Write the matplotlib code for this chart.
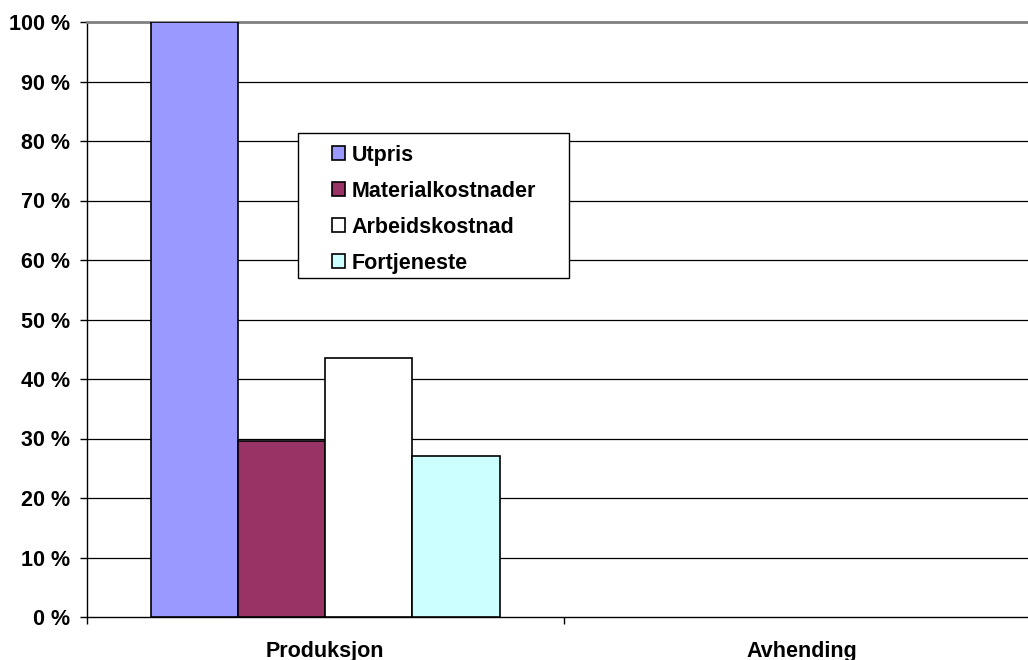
import matplotlib
matplotlib.use("Agg")
import matplotlib.pyplot as plt
from matplotlib.patches import Rectangle
import numpy as np

plt.rcParams['font.family'] = ['Liberation Sans', 'DejaVu Sans']
plt.rcParams['font.weight'] = 'bold'

categories = ["Produksjon", "Avhending"]
series_names = ["Utpris", "Materialkostnader", "Arbeidskostnad", "Fortjeneste"]
# Avhending has no values
utpris = [100.0, np.nan]
materialkostnader = [29.5, np.nan]
arbeidskostnad = [43.5, np.nan]
fortjeneste = [27.0, np.nan]
series_colors = ["#9999FF", "#993366", "#FFFFFF", "#CCFFFF"]
y_ticks = [0, 10, 20, 30, 40, 50, 60, 70, 80, 90, 100]

W, H = 1028, 660
fig = plt.figure(figsize=(W / 100, H / 100), dpi=100)
ax = fig.add_axes([87 / W, 1 - 617 / H, (1040 - 87) / W, (617 - 22) / H])

x = np.arange(len(categories))
width = 0.183
series = [utpris, materialkostnader, arbeidskostnad, fortjeneste]
handles = []
for i, (vals, name, col) in enumerate(zip(series, series_names, series_colors)):
    offs = (i - 1.5) * width
    b = ax.bar(x + offs, vals, width, color=col, edgecolor="black",
               linewidth=1.2, label=name, zorder=3)
    handles.append(b)

ax.set_xlim(-0.5, 1.5)
ax.set_ylim(0, 100)

# horizontal gridlines
for v in y_ticks[1:-1]:
    ax.axhline(v, color="black", linewidth=0.9, zorder=1)

ax.spines['right'].set_visible(False)
ax.spines['top'].set_color("#808080")
ax.spines['top'].set_linewidth(2.0)
ax.spines['left'].set_color("black")
ax.spines['left'].set_linewidth(1.0)
ax.spines['bottom'].set_color("black")
ax.spines['bottom'].set_linewidth(1.0)

ax.set_yticks(y_ticks)
ax.set_yticklabels([f"{v} %" for v in y_ticks], fontsize=15.5, fontweight="bold")
ax.tick_params(axis='y', direction='out', length=5, width=1, pad=7)

ax.set_xticks([-0.5, 0.5, 1.5])
ax.set_xticklabels([])
ax.set_xticks(x, minor=True)
ax.set_xticklabels(categories, minor=True, fontsize=15.5, fontweight="bold")
ax.tick_params(axis='x', which='major', direction='out', length=5, width=1)
ax.tick_params(axis='x', which='minor', length=0, pad=17)

# legend frame and entries
fig.patches.append(Rectangle((298 / W, 1 - 278 / H), (569 - 298) / W, (278 - 133) / H,
                             transform=fig.transFigure, facecolor="white",
                             edgecolor="black", linewidth=1.0, zorder=5))
leg = fig.legend(handles=handles, labels=series_names, loc="upper left",
                 bbox_to_anchor=(332 / W, 1 - 145 / H), frameon=False,
                 borderpad=0, borderaxespad=0, handlelength=0.62,
                 handleheight=0.62, handletextpad=0.3, labelspacing=0.69,
                 prop={'size': 15.5, 'weight': 'bold'})
leg.set_zorder(6)

fig.savefig("out.png", dpi=100)
